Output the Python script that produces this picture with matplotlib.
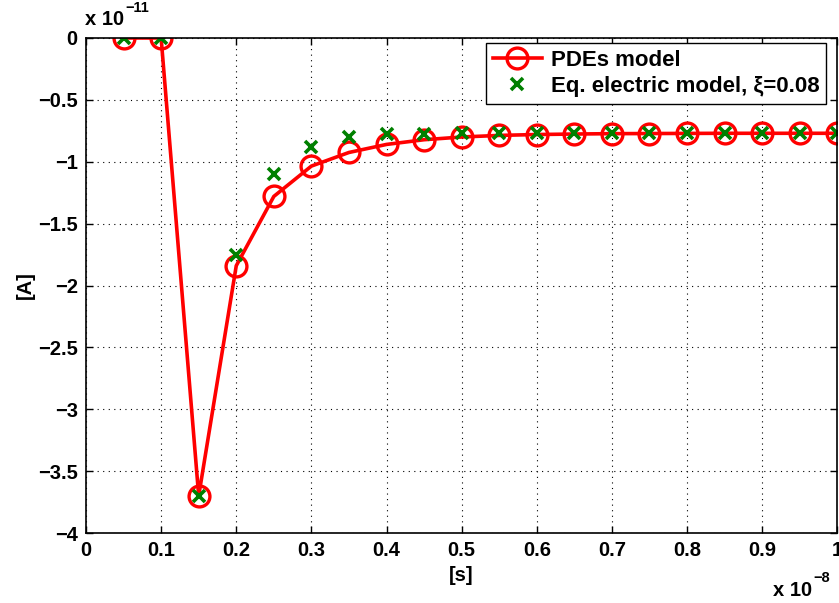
import numpy as np
import matplotlib
matplotlib.use("Agg")
import matplotlib.pyplot as plt

# time axis in units of 1e-8 s, current in units of 1e-11 A
t = [0.05, 0.10, 0.15, 0.20, 0.25, 0.30, 0.35, 0.40, 0.45, 0.50,
     0.55, 0.60, 0.65, 0.70, 0.75, 0.80, 0.85, 0.90, 0.95, 1.00]
i_pde = [0.0, 0.0, -3.70, -1.84, -1.28, -1.035, -0.925, -0.86, -0.822, -0.80,
         -0.787, -0.78, -0.776, -0.773, -0.772, -0.771, -0.770, -0.770, -0.770, -0.770]
i_eq = [0.0, 0.0, -3.70, -1.755, -1.095, -0.878, -0.80, -0.778, -0.772, -0.770,
        -0.770, -0.770, -0.770, -0.770, -0.770, -0.770, -0.770, -0.770, -0.770, -0.770]

xticks = [0, 0.1, 0.2, 0.3, 0.4, 0.5, 0.6, 0.7, 0.8, 0.9, 1]
xlabels = ["0", "0.1", "0.2", "0.3", "0.4", "0.5", "0.6", "0.7", "0.8", "0.9", "1"]
yticks = [-4, -3.5, -3, -2.5, -2, -1.5, -1, -0.5, 0]
ylabels = ["\u22124", "\u22123.5", "\u22123", "\u22122.5", "\u22122", "\u22121.5", "\u22121", "\u22120.5", "0"]

plt.rcParams["font.family"] = ["Liberation Sans", "DejaVu Sans"]
plt.rcParams["font.weight"] = "bold"
FS = 14.5

fig = plt.figure(figsize=(8.39, 6.03), dpi=100)
ax = fig.add_axes([0.1025, 0.116, 0.8955, 0.821])

ax.plot(t, i_pde, "-o", color="red", lw=2.6, ms=15, mfc="none", mew=2.4,
        label="PDEs model")
ax.plot(t, i_eq, "x", color="green", ms=8.5, mew=2.6, ls="none",
        label="Eq. electric model, \u03be=0.08")

ax.set_xlim(0, 1)
ax.set_ylim(-4, 0)
ax.set_xticks(xticks)
ax.set_xticklabels(xlabels, fontsize=FS, fontweight="bold")
ax.set_yticks(yticks)
ax.set_yticklabels(ylabels, fontsize=FS, fontweight="bold")
ax.tick_params(direction="in", top=True, right=True, length=5, width=1, pad=6)
ax.grid(True, ls=(0, (1, 4)), color="black", lw=0.8)
for s in ax.spines.values():
    s.set_linewidth(1.2)

ax.set_xlabel("[s]", fontsize=FS, fontweight="bold", labelpad=4)
ax.set_ylabel("[A]", fontsize=FS, fontweight="bold", labelpad=2)

# MATLAB-style exponent labels
fig.text(0.101, 0.952, "x 10", fontsize=FS, fontweight="bold", ha="left", va="bottom")
fig.text(0.150, 0.975, "\u221211", fontsize=10.5, fontweight="bold", ha="left", va="bottom")
fig.text(0.921, 0.005, "x 10", fontsize=FS, fontweight="bold", ha="left", va="bottom")
fig.text(0.970, 0.030, "\u22128", fontsize=10.5, fontweight="bold", ha="left", va="bottom")

leg = ax.legend(loc="upper right", bbox_to_anchor=(0.985, 0.99), fancybox=False,
                edgecolor="black", framealpha=1, prop={"size": 16, "weight": "bold"},
                borderaxespad=0, handlelength=2.2, handletextpad=0.4,
                borderpad=0.3, labelspacing=0.25)
leg.get_frame().set_linewidth(1.0)

fig.savefig("out.png", dpi=100)
